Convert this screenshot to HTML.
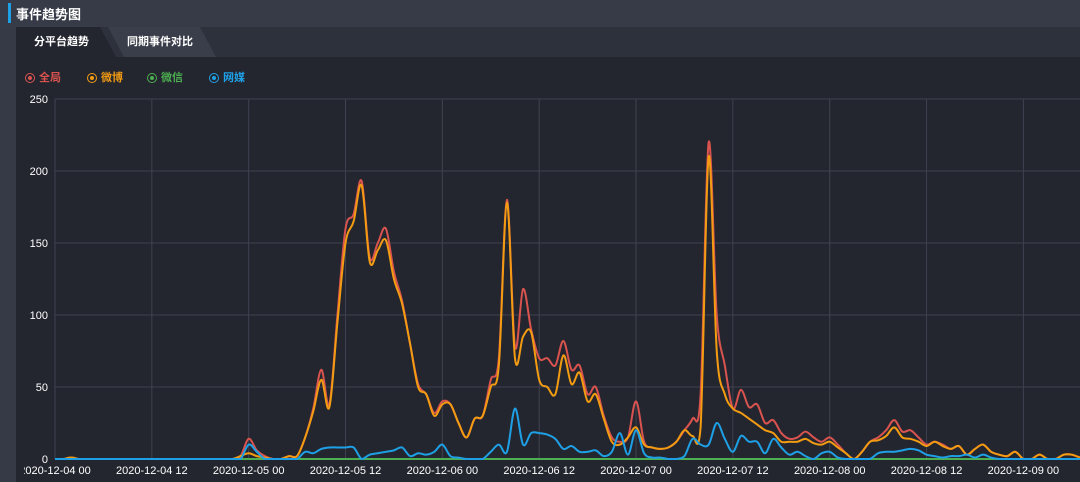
<!DOCTYPE html>
<html><head><meta charset="utf-8">
<style>
body{margin:0;width:1080px;height:482px;overflow:hidden;background:#353a46;font-family:"Liberation Sans","Noto Sans CJK SC",sans-serif;}
#hdr{position:absolute;left:0;top:0;width:1080px;height:27px;background:#363b47;}
#bar{position:absolute;left:8px;top:3px;width:3px;height:20px;background:#1ea0e6;}
#title{position:absolute;left:16px;top:4px;color:#fff;font-size:13px;font-weight:bold;}
#tabs{position:absolute;left:16px;top:27px;width:1064px;height:30px;background:#2d313c;}
#panel{position:absolute;left:16px;top:57px;width:1064px;height:425px;background:#24262f;}
.tab{position:absolute;top:27px;height:30px;font-size:11px;font-weight:bold;color:#fff;line-height:30px;}
.leg{position:absolute;top:69px;font-size:11px;font-weight:bold;}
.leg i{display:inline-block;width:8px;height:8px;border-radius:50%;border:1.5px solid;vertical-align:-2px;margin-right:4px;position:relative;}
.leg i:after{content:"";position:absolute;left:2px;top:2px;width:4px;height:4px;border-radius:50%;background:currentColor;}
svg{position:absolute;left:0;top:0;}
</style></head><body>
<div id="hdr"></div>
<div id="bar"></div>
<div id="title">事件趋势图</div>
<div id="tabs"></div>
<svg width="1080" height="60" style="top:0">
<polygon points="16,27 100,27 116,57 16,57" fill="#24262f"/>
<polygon points="108,27 200,27 216,57 124,57" fill="#3a3e4a"/>
</svg>
<div class="tab" style="left:34px">分平台趋势</div>
<div class="tab" style="left:127px">同期事件对比</div>
<div id="panel"></div>
<div class="leg" style="left:25px;color:#d9534f"><i></i>全局</div>
<div class="leg" style="left:87px;color:#f39c12"><i></i>微博</div>
<div class="leg" style="left:147px;color:#4caf50"><i></i>微信</div>
<div class="leg" style="left:209px;color:#1ea0e6"><i></i>网媒</div>
<svg id="chart" width="1080" height="482"><defs><clipPath id="cp"><rect x="24" y="0" width="1056" height="482"/></clipPath></defs><g id="g" clip-path="url(#cp)"></g></svg>
<script>
const yTicks=[0,50,100,150,200,250];
const xTickLabels=["2020-12-04 00","2020-12-04 12","2020-12-05 00","2020-12-05 12","2020-12-06 00","2020-12-06 12","2020-12-07 00","2020-12-07 12","2020-12-08 00","2020-12-08 12","2020-12-09 00"];
const allVals=[0,0,1,0,0,0,0,0,0,0,0,0,0,0,0,0,0,0,0,0,0,0,0,2,14,6,2,0,0,2,2,15,35,62,38,100,160,170,193,140,150,160,130,110,80,52,45,32,40,38,25,15,28,30,55,70,180,78,118,90,70,70,65,82,62,65,45,50,30,15,12,15,40,12,8,7,8,12,20,28,45,220,100,65,35,48,36,38,25,27,18,14,15,19,15,12,15,10,4,0,5,12,15,20,27,19,20,15,10,12,10,7,9,3,7,10,5,3,2,5,0,0,3,0,0,3,3,1];
const weiboVals=[0,0,1,0,0,0,0,0,0,0,0,0,0,0,0,0,0,0,0,0,0,0,0,2,4,2,1,0,0,2,2,15,33,55,36,95,150,165,190,137,145,152,125,108,80,50,45,30,38,38,25,15,28,30,50,65,178,70,85,88,55,50,45,72,52,60,40,45,28,12,10,15,22,10,8,7,8,12,20,16,22,210,75,45,35,32,28,24,20,18,12,12,12,14,11,10,12,8,4,0,5,12,13,16,22,15,14,12,9,12,9,7,9,3,7,10,5,3,2,5,0,0,3,0,0,3,3,1];
const weixinVals=new Array(128).fill(0);
const webVals=[0,0,0,0,0,0,0,0,0,0,0,0,0,0,0,0,0,0,0,0,0,0,0,0,10,5,0,0,0,0,0,5,4,7,8,8,8,8,0,3,4,5,6,8,2,4,3,5,10,2,1,0,0,0,5,10,5,35,10,18,18,17,14,7,9,5,5,6,2,5,18,3,20,4,1,1,0,0,2,14,10,10,25,14,5,16,12,12,4,14,8,3,5,2,0,4,5,1,0,0,0,0,4,5,5,6,7,6,3,2,1,2,2,3,1,3,1,0,0,0,0,0,0,0,0,0,0,0];
const X0=55,HPX=8.07,Y0=459,YPX=1.44;
const xs=h=>X0+h*HPX, ys=v=>Y0-v*YPX;
const svg=document.getElementById('g');const NS='http://www.w3.org/2000/svg';
function mk(t,a){const e=document.createElementNS(NS,t);for(const k in a)e.setAttribute(k,a[k]);svg.appendChild(e);return e;}
yTicks.forEach(v=>{
 const l=mk('line',{x1:X0,x2:1080,y1:ys(v),y2:ys(v),stroke:'#3e4250','stroke-width':1});
 
 
 const t=mk('text',{x:48,y:ys(v)+4,fill:'#fff','font-size':11,'text-anchor':'end'});t.textContent=v;
 
 
});
xTickLabels.forEach((s,i)=>{
 const x=xs(i*12);
 const l=mk('line',{x1:x,x2:x,y1:ys(250),y2:Y0,stroke:'#3e4250','stroke-width':1});
 
 
 const t=mk('text',{x:x,y:474,fill:'#fff','font-size':11,'text-anchor':'middle'});t.textContent=s;
 
 
});
function path(vals){
 const p=vals.map((v,i)=>[xs(i),ys(v)]);let d='M'+p[0][0]+','+p[0][1];
 for(let i=0;i<p.length-1;i++){const a=p[Math.max(0,i-1)],b=p[i],c=p[i+1],e=p[Math.min(p.length-1,i+2)];
  let c1y=b[1]+(c[1]-a[1])/6,c2y=c[1]-(e[1]-b[1])/6;c1y=Math.min(c1y,Y0);c2y=Math.min(c2y,Y0);
  d+=` C${b[0]+(c[0]-a[0])/6},${c1y} ${c[0]-(e[0]-b[0])/6},${c2y} ${c[0]},${c[1]}`;}
 return d;}
[[allVals,'#d9534f','series-all'],[weiboVals,'#f39c12','series-weibo'],[weixinVals,'#4caf50','series-weixin'],[webVals,'#1ea0e6','series-web']].forEach(s=>{
 const e=mk('path',{d:path(s[0]),fill:'none',stroke:s[1],'stroke-width':2,'stroke-linejoin':'round'});
 
 
});
</script>
</body></html>
